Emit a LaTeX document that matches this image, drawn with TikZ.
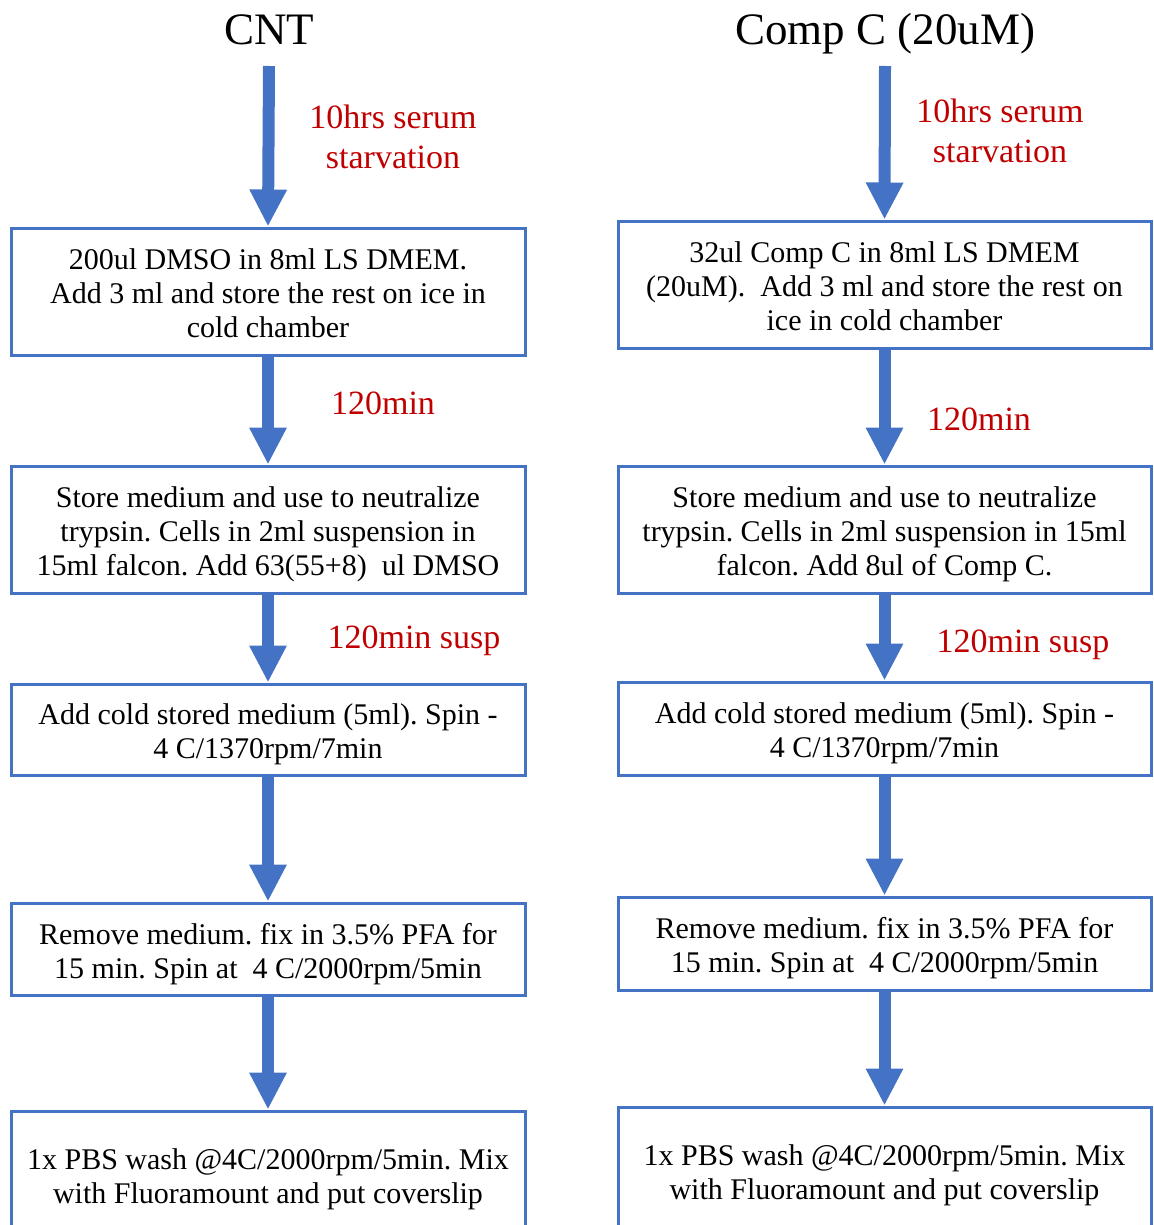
\documentclass[tikz,border=0pt]{standalone}
\usepackage{fontspec}
\setmainfont{Liberation Serif}
\usetikzlibrary{arrows.meta}
\definecolor{boxblue}{RGB}{68,114,196}
\definecolor{notered}{RGB}{192,0,0}
\frenchspacing
\newcommand{\stepgap}{\rule{0pt}{31pt}}

\begin{document}
\begin{tikzpicture}[x=1pt, y=-1pt,
    stepbox/.style = {draw=boxblue, line width=3pt, inner sep=0pt, align=center,
        font=\fontsize{30}{34}\selectfont, execute at end node={\rule[-7pt]{0pt}{7pt}}},
    title/.style = {font=\fontsize{45}{50}\selectfont, anchor=base},
    note/.style = {text=notered, align=center, font=\fontsize{34}{40}\selectfont},
    flow/.style = {draw=boxblue, line width=12pt, -{Triangle[width=35pt, length=37pt]}}]

    \useasboundingbox (0,0) rectangle (1153,1225);
    \clip (0,0) rectangle (1153,1225);

    % left column
    \node[title] (cnt) at (269, 45) {CNT};
    \coordinate (ltop) at (269, 66);
    \node[stepbox, minimum width=514, minimum height=127] (l1) at (268, 291.5) {\stepgap200ul DMSO in 8ml LS DMEM.\\Add 3 ml and store the rest on ice in\\cold chamber};
    \node[stepbox, minimum width=514, minimum height=127] (l2) at (268, 529.5) {\stepgap Store medium and use to neutralize\\trypsin. Cells in 2ml suspension in\\15ml falcon. Add 63(55+8)\ \ ul DMSO};
    \node[stepbox, minimum width=514, minimum height=91] (l3) at (268, 729.5) {\stepgap Add cold stored medium (5ml). Spin -\\4 C/1370rpm/7min};
    \node[stepbox, minimum width=514, minimum height=92] (l4) at (268, 949) {\stepgap Remove medium. fix in 3.5\% PFA for\\15 min. Spin at\ \ 4 C/2000rpm/5min};
    \node[stepbox, minimum width=514, minimum height=127] (l5) at (268, 1174.5) {\stepgap 1x PBS wash @4C/2000rpm/5min. Mix\\with Fluoramount and put coverslip};

    \draw[flow] (ltop) -- (l1.north);
    \draw[flow] (l1) -- (l2);
    \draw[flow] (l2) -- (l3);
    \draw[flow] (l3) -- (l4);
    \draw[flow] (l4) -- (l5);

    \node[note] (ln1) at (393, 137) {10hrs serum\\starvation};
    \node[note, anchor=base] (ln2) at (383, 414) {120min};
    \node[note, anchor=base] (ln3) at (414, 648) {120min susp};

    % right column
    \node[title] (compc) at (885, 45) {Comp C (20uM)};
    \coordinate (rtop) at (885, 66);
    \node[stepbox, minimum width=533, minimum height=127] (r1) at (884.5, 284.5) {\stepgap 32ul Comp C in 8ml LS DMEM\\(20uM).\ \ Add 3 ml and store the rest on\\ice in cold chamber};
    \node[stepbox, minimum width=533, minimum height=127] (r2) at (884.5, 529.5) {\stepgap Store medium and use to neutralize\\trypsin. Cells in 2ml suspension in 15ml\\falcon. Add 8ul of Comp C.};
    \node[stepbox, minimum width=533, minimum height=93] (r3) at (884.5, 728.5) {\stepgap Add cold stored medium (5ml). Spin -\\4 C/1370rpm/7min};
    \node[stepbox, minimum width=533, minimum height=93] (r4) at (884.5, 943.5) {\stepgap Remove medium. fix in 3.5\% PFA for\\15 min. Spin at\ \ 4 C/2000rpm/5min};
    \node[stepbox, minimum width=533, minimum height=127] (r5) at (884.5, 1170.5) {\stepgap 1x PBS wash @4C/2000rpm/5min. Mix\\with Fluoramount and put coverslip};

    \draw[flow] (rtop) -- (r1.north);
    \draw[flow] (r1) -- (r2);
    \draw[flow] (r2) -- (r3);
    \draw[flow] (r3) -- (r4);
    \draw[flow] (r4) -- (r5);

    \node[note] (rn1) at (1000, 131) {10hrs serum\\starvation};
    \node[note, anchor=base] (rn2) at (979, 430) {120min};
    \node[note, anchor=base] (rn3) at (1023, 652) {120min susp};

\end{tikzpicture}
\end{document}
